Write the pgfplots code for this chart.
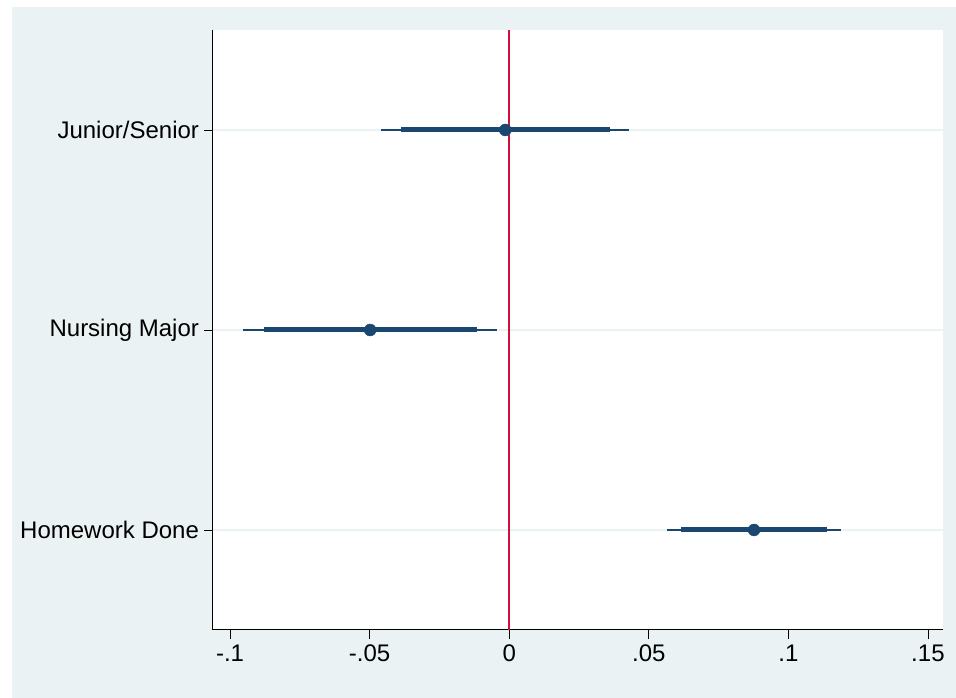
\documentclass[border=0pt]{standalone}
\usepackage{fontspec}
\setmainfont{Liberation Sans}
\usepackage{pgfplots}
\pgfplotsset{compat=1.18}
\definecolor{bg}{HTML}{EAF2F3}
\definecolor{navy}{HTML}{1A476F}
\definecolor{redl}{HTML}{D0103A}
\begin{document}
\begin{tikzpicture}[x=1pt,y=1pt]
\fill[white] (0,0) rectangle (956,698);
\fill[bg] (12,0) rectangle (956,691);
\begin{axis}[
 at={(213pt,68pt)}, anchor=south west,
 scale only axis, width=730pt, height=600pt,
 xmin=-0.1061, xmax=0.1554, ymin=0.5, ymax=3.5,
 axis background/.style={fill=white},
 axis x line*=bottom, axis y line*=left,
 axis line style={-, line width=1pt, black},
 xtick={-0.1,-0.05,0,0.05,0.1,0.15},
 xticklabels={-.1,-.05,0,.05,.1,.15},
 ytick={1,2,3}, yticklabels={Homework Done, Nursing Major, Junior/Senior},
 tick align=outside, major tick length=9pt,
 tick style={black, line width=0.8pt},
 ymajorgrids, major grid style={bg, line width=1.2pt},
 ticklabel style={font=\fontsize{24}{28}\selectfont},
 yticklabel style={xshift=-1.5pt},
 xticklabel style={yshift=-2pt},
 /pgf/number format/assume math mode=true,
 clip=false,
]
\addplot[redl, line width=2pt] coordinates {(0,0.5) (0,3.5)};
% Junior/Senior
\addplot[navy, line width=2pt] coordinates {(-0.0458,3) (0.0430,3)};
\addplot[navy, line width=5pt] coordinates {(-0.0387,3) (0.0362,3)};
% Nursing Major
\addplot[navy, line width=2pt] coordinates {(-0.0953,2) (-0.0043,2)};
\addplot[navy, line width=5pt] coordinates {(-0.0877,2) (-0.0115,2)};
% Homework Done
\addplot[navy, line width=2pt] coordinates {(0.0566,1) (0.1189,1)};
\addplot[navy, line width=5pt] coordinates {(0.0616,1) (0.1139,1)};
% point estimates
\addplot[only marks, mark=*, mark size=6pt, navy, mark options={fill=navy, draw=navy}]
 coordinates {(-0.0014,3) (-0.0498,2) (0.0877,1)};
\end{axis}
\end{tikzpicture}
\end{document}
